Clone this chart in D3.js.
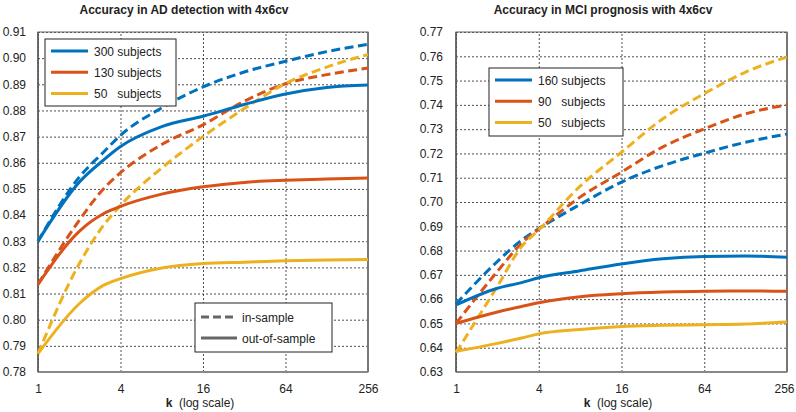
<!DOCTYPE html>
<html><head><meta charset="utf-8">
<script src="https://cdn.jsdelivr.net/npm/d3@7"></script>
<style>
body{margin:0;background:#fff;}
svg text{font-family:"Liberation Sans",Arial,sans-serif;fill:#222;}
</style></head>
<body><svg id="c" width="796" height="412"></svg>
<script>
// ---- data ----
const kValues = [1, 2, 3, 4, 8, 16, 32, 64, 128, 256];
const xTicks = [1, 4, 16, 64, 256];

// Left: AD detection
const adLabels = ["300 subjects", "130 subjects", "50   subjects"];
const adIn300 = [0.830, 0.8545, 0.864, 0.8705, 0.881, 0.889, 0.8947, 0.8988, 0.9025, 0.9053];
const adOut300 = [0.830, 0.8526, 0.861, 0.8662, 0.8738, 0.8778, 0.8823, 0.8863, 0.8888, 0.8897];
const adIn130 = [0.8135, 0.838, 0.850, 0.8562, 0.867, 0.8745, 0.8835, 0.8902, 0.8937, 0.8962];
const adOut130 = [0.8135, 0.8338, 0.8405, 0.8433, 0.848, 0.8508, 0.8525, 0.8533, 0.8538, 0.8542];
const adIn50 = [0.787, 0.8214, 0.836, 0.8437, 0.858, 0.870, 0.8807, 0.8903, 0.8966, 0.9014];
const adOut50 = [0.787, 0.8061, 0.8131, 0.8157, 0.8198, 0.8215, 0.822, 0.8225, 0.8228, 0.823];
const adYTicks = [0.78, 0.79, 0.80, 0.81, 0.82, 0.83, 0.84, 0.85, 0.86, 0.87, 0.88, 0.89, 0.90, 0.91];

// Right: MCI prognosis
const mciLabels = ["160 subjects", "90   subjects", "50   subjects"];
const mciIn160 = [0.658, 0.6755, 0.6843, 0.689, 0.699, 0.7082, 0.715, 0.7201, 0.7246, 0.728];
const mciOut160 = [0.6576, 0.6645, 0.6668, 0.6688, 0.6717, 0.6745, 0.6766, 0.6776, 0.6778, 0.6773];
const mciIn90 = [0.650, 0.6714, 0.683, 0.6888, 0.702, 0.7123, 0.7227, 0.7301, 0.7363, 0.740];
const mciOut90 = [0.650, 0.6547, 0.657, 0.6585, 0.661, 0.6622, 0.6629, 0.6633, 0.6634, 0.6632];
const mciIn50 = [0.638, 0.6653, 0.6816, 0.6885, 0.7065, 0.7205, 0.7343, 0.7446, 0.7535, 0.7597];
const mciOut50 = [0.6385, 0.6418, 0.644, 0.6457, 0.6475, 0.6487, 0.6492, 0.6495, 0.6498, 0.6506];
const mciYTicks = [0.63, 0.64, 0.65, 0.66, 0.67, 0.68, 0.69, 0.70, 0.71, 0.72, 0.73, 0.74, 0.75, 0.76, 0.77];

const colors = ["#0072BD", "#D95319", "#EDB120"];
const styleLabels = ["in-sample", "out-of-sample"];

const svg = d3.select("#c");

function panel(cfg) {
  const x = d3.scaleLog().base(2).domain([1, 256]).range([cfg.x0, cfg.x1]);
  const y = d3.scaleLinear().domain(cfg.yDomain).range([cfg.y1, cfg.y0]);
  const g = svg.append("g");

  // grid + tick labels
  g.append("g").attr("transform", `translate(0,${cfg.y1})`)
    .call(d3.axisBottom(x).tickValues(xTicks).tickSize(-(cfg.y1 - cfg.y0)).tickFormat(d => d))
    .call(a => a.select(".domain").remove())
    .call(a => a.selectAll("line").attr("stroke", "#222").attr("stroke-width", 0.8).attr("stroke-dasharray", "2,2"))
    .call(a => a.selectAll("text").attr("dy", null).attr("y", 21)
      .attr("x", d => d === 256 ? cfg.lastTickShift : 0)
      .attr("font-size", 12).style("font-family", "Liberation Sans, Arial, sans-serif").attr("fill", "#222"));
  g.append("g").attr("transform", `translate(${cfg.x0},0)`)
    .call(d3.axisLeft(y).tickValues(cfg.yTicks).tickSize(-(cfg.x1 - cfg.x0)).tickFormat(d3.format(".2f")))
    .call(a => a.select(".domain").remove())
    .call(a => a.selectAll("line").attr("stroke", "#222").attr("stroke-width", 0.8).attr("stroke-dasharray", "2,2"))
    .call(a => a.selectAll("text").attr("x", -cfg.yLabelGap).attr("font-size", 12).style("font-family", "Liberation Sans, Arial, sans-serif").attr("fill", "#222"));

  // frame
  g.append("rect").attr("x", cfg.x0).attr("y", cfg.y0).attr("width", cfg.x1 - cfg.x0).attr("height", cfg.y1 - cfg.y0)
    .attr("fill", "none").attr("stroke", "#666").attr("stroke-width", 1);
  g.append("line").attr("x1", cfg.x1).attr("x2", cfg.x1).attr("y1", cfg.y0).attr("y2", cfg.y1)
    .attr("stroke", "#777").attr("stroke-width", 2);
  g.append("line").attr("x1", cfg.x0).attr("x2", cfg.x1).attr("y1", cfg.y1).attr("y2", cfg.y1)
    .attr("stroke", "#888").attr("stroke-width", 2);
  g.append("line").attr("x1", cfg.x0).attr("x2", cfg.x0).attr("y1", cfg.y0).attr("y2", cfg.y1)
    .attr("stroke", "#555").attr("stroke-width", 1.5);

  // lines
  const line = d3.line().x((d, i) => x(kValues[i])).y(d => y(d)).curve(d3.curveMonotoneX);
  cfg.series.forEach(s => {
    g.append("path").datum(s.values).attr("d", line).attr("fill", "none")
      .attr("stroke", colors[s.c]).attr("stroke-width", 3)
      .attr("stroke-dasharray", s.dash ? "9,4.5" : null);
  });

  // title
  g.append("text").attr("x", cfg.titleX).attr("y", 14).attr("text-anchor", "middle")
    .attr("font-size", 12).attr("font-weight", "bold").text(cfg.title);
  // x label
  const xl = g.append("text").attr("x", cfg.xLabelX).attr("y", 407).attr("text-anchor", "middle").attr("font-size", 12);
  xl.append("tspan").attr("font-weight", "bold").text("k");
  xl.append("tspan").text("  (log scale)").style("white-space", "pre");

  // subject legend
  const L = cfg.legend;
  g.append("rect").attr("x", L.x).attr("y", L.y).attr("width", L.w).attr("height", L.h)
    .attr("fill", "#fff").attr("stroke", "#222").attr("stroke-width", 1);
  cfg.labels.forEach((lab, i) => {
    const yy = L.y + 12 + i * 21.3;
    g.append("line").attr("x1", L.x + 6).attr("x2", L.x + 43).attr("y1", yy).attr("y2", yy)
      .attr("stroke", colors[i]).attr("stroke-width", 3);
    g.append("text").attr("x", L.x + 49).attr("y", yy + 4.5).attr("font-size", 12)
      .style("white-space", "pre").text(lab);
  });
  return g;
}

panel({
  x0: 38, x1: 368, y0: 32, y1: 372, yDomain: [0.78, 0.91], yTicks: adYTicks, yLabelGap: 12,
  title: "Accuracy in AD detection with 4x6cv", titleX: 184, xLabelX: 200, lastTickShift: 0,
  labels: adLabels,
  legend: {x: 45, y: 39, w: 131, h: 67},
  series: [
    {values: adIn300, c: 0, dash: true}, {values: adIn130, c: 1, dash: true}, {values: adIn50, c: 2, dash: true},
    {values: adOut300, c: 0}, {values: adOut130, c: 1}, {values: adOut50, c: 2}
  ]
});

// line style legend (left panel)
const sl = svg.append("g");
sl.append("rect").attr("x", 195).attr("y", 303).attr("width", 137).attr("height", 49)
  .attr("fill", "#fff").attr("stroke", "#222").attr("stroke-width", 1);
styleLabels.forEach((lab, i) => {
  const yy = 317 + i * 21;
  sl.append("line").attr("x1", 201).attr("x2", 237).attr("y1", yy).attr("y2", yy)
    .attr("stroke", "#666").attr("stroke-width", 3).attr("stroke-dasharray", i === 0 ? "8,4" : null);
  sl.append("text").attr("x", 242).attr("y", yy + 4.5).attr("font-size", 12).text(lab);
});

panel({
  x0: 456, x1: 787, y0: 32, y1: 372, yDomain: [0.63, 0.77], yTicks: mciYTicks, yLabelGap: 13,
  title: "Accuracy in MCI prognosis with 4x6cv", titleX: 603, xLabelX: 618, lastTickShift: -3,
  labels: mciLabels,
  legend: {x: 489, y: 68, w: 134, h: 68},
  series: [
    {values: mciIn160, c: 0, dash: true}, {values: mciIn90, c: 1, dash: true}, {values: mciIn50, c: 2, dash: true},
    {values: mciOut160, c: 0}, {values: mciOut90, c: 1}, {values: mciOut50, c: 2}
  ]
});
</script></body></html>
